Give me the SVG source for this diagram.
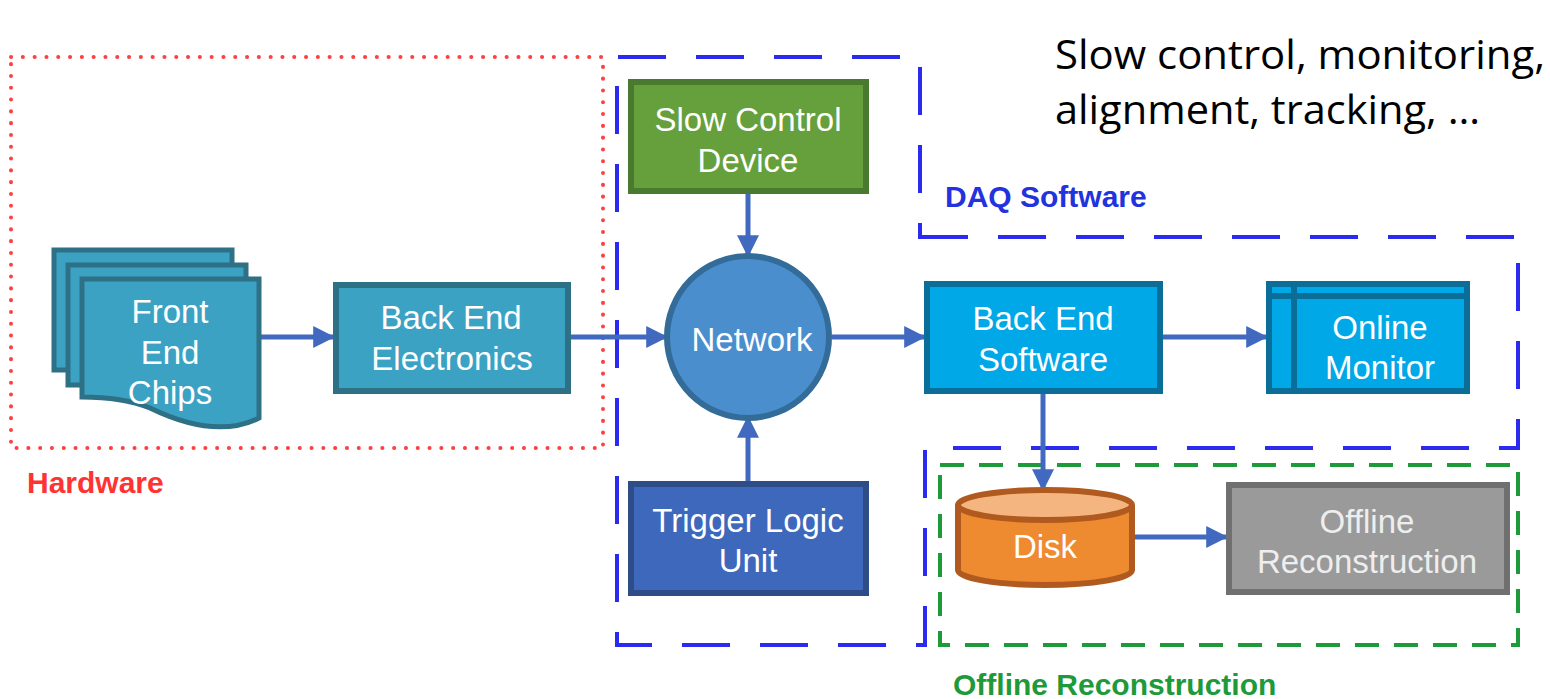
<svg xmlns="http://www.w3.org/2000/svg" width="1550" height="699" viewBox="0 0 1550 699">
<style>
.lbl{font-family:"Liberation Sans",Arial,sans-serif;font-size:33px;fill:#ffffff;text-anchor:middle}
.grp{font-family:"Liberation Sans",Arial,sans-serif;font-size:30px;font-weight:bold}
.conn{stroke:#4169C0;stroke-width:5;fill:none}
.note{font-family:"Open Sans",Lato,sans-serif;font-size:40px;fill:#000000}
</style>
<defs>
<marker id="ah" viewBox="0 0 10 10" refX="9" refY="5" markerWidth="4.4" markerHeight="4.4" orient="auto" markerUnits="strokeWidth">
<path d="M0,0 L10,5 L0,10 Z" fill="#4169C0"/>
</marker>
</defs>
<rect width="1550" height="699" fill="#ffffff"/>

<g id="boundaries">
<rect id="hardware-box" x="11" y="57" width="592" height="391" fill="none" stroke="#FF4040" stroke-width="4" stroke-dasharray="0.1 11.7" stroke-linecap="round"/>
<path id="daq-box" d="M920,237 H1518 V448 H925 V645 H617 V57 H920 Z" fill="none" stroke="#2B2BF0" stroke-width="4" stroke-dasharray="48 30"/>
<rect id="offline-box" x="940" y="465" width="578" height="180" fill="none" stroke="#1E9A3A" stroke-width="4" stroke-dasharray="24 15"/>
<text class="grp" x="27" y="493" fill="#FF3333">Hardware</text>
<text class="grp" x="945" y="207" fill="#2233DD">DAQ Software</text>
<text class="grp" x="953" y="695" fill="#1E9A3A">Offline Reconstruction</text>
</g>

<g id="note">
<text class="note" x="1055" y="69" textLength="490" lengthAdjust="spacingAndGlyphs">Slow control, monitoring,</text>
<text class="note" x="1055" y="124" textLength="425" lengthAdjust="spacingAndGlyphs">alignment, tracking, …</text>
</g>

<g id="connectors">
<line class="conn" x1="259" y1="337" x2="333" y2="337" marker-end="url(#ah)"/>
<line class="conn" x1="570" y1="337" x2="666" y2="337" marker-end="url(#ah)"/>
<line class="conn" x1="748" y1="193" x2="748" y2="255" marker-end="url(#ah)"/>
<line class="conn" x1="748" y1="481" x2="748" y2="418" marker-end="url(#ah)"/>
<line class="conn" x1="832" y1="337" x2="924" y2="337" marker-end="url(#ah)"/>
<line class="conn" x1="1162" y1="337" x2="1266" y2="337" marker-end="url(#ah)"/>
<line class="conn" x1="1043" y1="392" x2="1043" y2="489" marker-end="url(#ah)"/>
<line class="conn" x1="1135" y1="537" x2="1226" y2="537" marker-end="url(#ah)"/>
</g>

<g id="front-end-chips">
<rect x="54" y="250" width="178" height="120" fill="#3CA2C4" stroke="#2E7085" stroke-width="5"/>
<rect x="68" y="265" width="178" height="120" fill="#3CA2C4" stroke="#2E7085" stroke-width="5"/>
<path d="M82,279 H259 V418 C225,435 185,425 150,408 C125,398 100,397 82,397 Z" fill="#3CA2C4" stroke="#2E7085" stroke-width="5"/>
<text class="lbl" x="170" y="323">Front</text>
<text class="lbl" x="170" y="364">End</text>
<text class="lbl" x="170" y="404">Chips</text>
</g>

<g id="back-end-electronics">
<rect x="336" y="285" width="232" height="106" fill="#3CA2C4" stroke="#2E7085" stroke-width="6"/>
<text class="lbl" x="451" y="329">Back End</text>
<text class="lbl" x="452" y="370">Electronics</text>
</g>

<g id="slow-control-device">
<rect x="631" y="82" width="235" height="109" fill="#66A03C" stroke="#4A7A30" stroke-width="6"/>
<text class="lbl" x="748" y="131">Slow Control</text>
<text class="lbl" x="748" y="172">Device</text>
</g>

<g id="network">
<circle cx="748" cy="337" r="81" fill="#4A8ECE" stroke="#336B99" stroke-width="6"/>
<text class="lbl" x="752" y="351">Network</text>
</g>

<g id="trigger-logic-unit">
<rect x="631" y="484" width="235" height="109" fill="#3D68BB" stroke="#2E4C85" stroke-width="6"/>
<text class="lbl" x="748" y="532">Trigger Logic</text>
<text class="lbl" x="748" y="572">Unit</text>
</g>

<g id="back-end-software">
<rect x="927" y="284" width="233" height="107" fill="#00A8E8" stroke="#0A6E99" stroke-width="6"/>
<text class="lbl" x="1043" y="330">Back End</text>
<text class="lbl" x="1043" y="371">Software</text>
</g>

<g id="online-monitor">
<rect x="1269" y="284" width="198" height="107" fill="#00A8E8" stroke="#0A6E99" stroke-width="6"/>
<line x1="1269" y1="296" x2="1467" y2="296" stroke="#0A6E99" stroke-width="6"/>
<line x1="1294" y1="284" x2="1294" y2="391" stroke="#0A6E99" stroke-width="6"/>
<text class="lbl" x="1380" y="339">Online</text>
<text class="lbl" x="1380" y="379">Monitor</text>
</g>

<g id="disk">
<path d="M958,505 V570 A87,15 0 0 0 1132,570 V505" fill="#EE8A30" stroke="#B05A20" stroke-width="6"/>
<ellipse cx="1045" cy="505" rx="87" ry="15" fill="#F5B580" stroke="#B05A20" stroke-width="6"/>
<text class="lbl" x="1045" y="558">Disk</text>
</g>

<g id="offline-reconstruction">
<rect x="1229" y="485" width="278" height="107" fill="#9A9A9A" stroke="#707070" stroke-width="6"/>
<text class="lbl" x="1367" y="533" style="fill:#EEEEEE">Offline</text>
<text class="lbl" x="1367" y="573" style="fill:#EEEEEE">Reconstruction</text>
</g>
</svg>
